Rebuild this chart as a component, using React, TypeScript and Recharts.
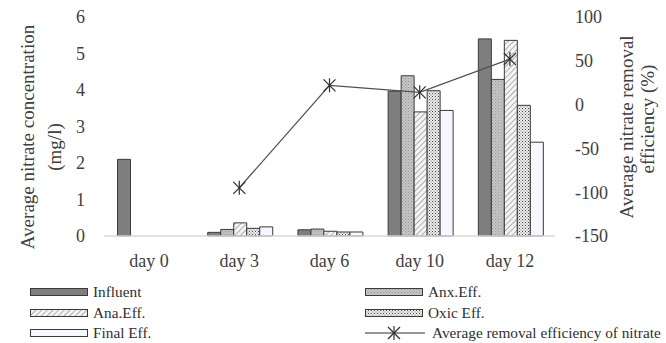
import React from 'react';
import { ComposedChart, Bar, Line, XAxis, YAxis, Legend } from 'recharts';

const categories = ['day 0', 'day 3', 'day 6', 'day 10', 'day 12'];
const influent = [2.1, 0.1, 0.17, 3.97, 5.4];
const anxEff = [0, 0.18, 0.19, 4.39, 4.29];
const anaEff = [0, 0.36, 0.13, 3.4, 5.36];
const oxicEff = [0, 0.21, 0.11, 3.98, 3.58];
const finalEff = [0, 0.25, 0.11, 3.44, 2.57];
const removal: (number | null)[] = [null, -95, 22, 14, 52];
const leftTicks = [0, 1, 2, 3, 4, 5, 6];
const rightTicks = [-150, -100, -50, 0, 50, 100];

const data = categories.map((c, i) => ({
  day: c,
  influent: influent[i],
  anx: anxEff[i],
  ana: anaEff[i],
  oxic: oxicEff[i],
  fin: finalEff[i],
  removal: removal[i],
}));

const FONT = "'Liberation Serif', 'DejaVu Serif', 'Noto Serif', serif";
const TXT = '#404040';
const STROKE = '#3a3a3a';

const StarDot = (props: any) => {
  const { cx, cy, value } = props;
  if (value == null || cx == null || cy == null) return null;
  const s = 6;
  return (
    <g stroke="#303030" strokeWidth={1.2}>
      <line x1={cx - s} y1={cy - s} x2={cx + s} y2={cy + s} />
      <line x1={cx - s} y1={cy + s} x2={cx + s} y2={cy - s} />
      <line x1={cx} y1={cy - s - 1} x2={cx} y2={cy + s + 1} />
    </g>
  );
};

const LeftTitle = () => (
  <g style={{ fontFamily: FONT }} fontSize={19} fill={TXT}>
    <text x={27} y={137} transform="rotate(-90 27 137)" textAnchor="middle" dominantBaseline="central" style={{ fontFamily: FONT }}>
      Average nitrate concentration
    </text>
    <text x={54} y={147} transform="rotate(-90 54 147)" textAnchor="middle" dominantBaseline="central" style={{ fontFamily: FONT }}>
      (mg/l)
    </text>
  </g>
);

const RightTitle = () => (
  <g style={{ fontFamily: FONT }} fontSize={19} fill={TXT}>
    <text x={626} y={127} transform="rotate(-90 626 127)" textAnchor="middle" dominantBaseline="central" style={{ fontFamily: FONT }}>
      Average nitrate removal
    </text>
    <text x={647} y={119} transform="rotate(-90 647 119)" textAnchor="middle" dominantBaseline="central" style={{ fontFamily: FONT }}>
      efficiency (%)
    </text>
  </g>
);

const legendItems = [
  { name: 'Influent', fill: '#7f7f7f', col: 0, row: 0, type: 'bar' },
  { name: 'Anx.Eff.', fill: 'url(#patAnx)', col: 1, row: 0, type: 'bar' },
  { name: 'Ana.Eff.', fill: 'url(#patAna)', col: 0, row: 1, type: 'bar' },
  { name: 'Oxic Eff.', fill: 'url(#patOxic)', col: 1, row: 1, type: 'bar' },
  { name: 'Final Eff.', fill: '#f7f7ff', col: 0, row: 2, type: 'bar' },
  { name: 'Average removal efficiency of nitrate', fill: '', col: 1, row: 2, type: 'line' },
];

const LegendContent = () => (
  <div style={{ position: 'relative', width: 666, height: 64, fontFamily: FONT, fontSize: 15.3, color: '#303030' }}>
    {legendItems.map((it) => {
      const left = it.col === 0 ? 30 : 365;
      const top = [13, 33.5, 54][it.row];
      return (
        <div key={it.name} style={{ position: 'absolute', left, top: top - 9, height: 18, display: 'flex', alignItems: 'center', whiteSpace: 'nowrap' }}>
          <svg width={60} height={18} style={{ display: 'block' }}>
            {it.type === 'bar' ? (
              <rect x={0.5} y={5.5} width={57} height={7} fill={it.fill} stroke={STROKE} strokeWidth={1} />
            ) : (
              <g>
                <line x1={0} y1={9} x2={60} y2={9} stroke="#303030" strokeWidth={1.2} />
                <StarDot cx={29} cy={9} value={1} />
              </g>
            )}
          </svg>
          <span style={{ marginLeft: it.type === 'bar' ? 3 : 7 }}>{it.name}</span>
        </div>
      );
    })}
  </div>
);

const tickStyle = { fill: TXT, fontSize: 18, fontFamily: FONT, style: { fontFamily: FONT } };

export default function App() {
  return (
    <div style={{ position: 'absolute', left: 0, top: 0, width: 666, height: 343, background: '#fff', fontFamily: FONT }}>
      <ComposedChart
        width={666}
        height={343}
        data={data}
        margin={{ top: 17, right: 0, bottom: 0, left: 0 }}
        barCategoryGap="15%"
        barGap={0}
        style={{ fontFamily: FONT }}
      >
        <defs>
          <pattern id="patAnx" width="3" height="3" patternUnits="userSpaceOnUse">
            <rect width="3" height="3" fill="#c4c4c4" />
            <rect x="0" y="0" width="1" height="1" fill="#9a9a9a" />
            <rect x="1.5" y="1.5" width="1" height="1" fill="#a8a8a8" />
          </pattern>
          <pattern id="patAna" width="4" height="4" patternUnits="userSpaceOnUse" patternTransform="rotate(45)">
            <rect width="4" height="4" fill="#f4f4f4" />
            <line x1="0" y1="0" x2="0" y2="4" stroke="#8a8a8a" strokeWidth="1.3" />
          </pattern>
          <pattern id="patOxic" width="3" height="3" patternUnits="userSpaceOnUse">
            <rect width="3" height="3" fill="#ececec" />
            <rect x="0" y="0" width="1" height="1" fill="#4a4a4a" />
            <rect x="1.5" y="1.5" width="1" height="1" fill="#7a7a7a" />
          </pattern>
        </defs>
        <XAxis
          dataKey="day"
          height={43}
          tickLine={false}
          tickSize={0}
          tickMargin={18}
          axisLine={{ stroke: '#d9d9d9', strokeWidth: 1.5 }}
          tick={tickStyle}
          interval={0}
        />
        <YAxis
          yAxisId="left"
          orientation="left"
          width={104}
          domain={[0, 6]}
          ticks={leftTicks}
          axisLine={false}
          tickLine={false}
          tickSize={0}
          tickMargin={19}
          tick={tickStyle}
          label={{ content: () => <LeftTitle /> }}
        />
        <YAxis
          yAxisId="right"
          orientation="right"
          width={111}
          domain={[-150, 100]}
          ticks={rightTicks}
          axisLine={false}
          tickLine={false}
          tickSize={0}
          tickMargin={20}
          tick={tickStyle}
          label={{ content: () => <RightTitle /> }}
        />
        <Bar yAxisId="left" dataKey="influent" name="Influent" fill="#7f7f7f" stroke={STROKE} strokeWidth={1} isAnimationActive={false} />
        <Bar yAxisId="left" dataKey="anx" name="Anx.Eff." fill="url(#patAnx)" stroke={STROKE} strokeWidth={1} isAnimationActive={false} />
        <Bar yAxisId="left" dataKey="ana" name="Ana.Eff." fill="url(#patAna)" stroke={STROKE} strokeWidth={1} isAnimationActive={false} />
        <Bar yAxisId="left" dataKey="oxic" name="Oxic Eff." fill="url(#patOxic)" stroke={STROKE} strokeWidth={1} isAnimationActive={false} />
        <Bar yAxisId="left" dataKey="fin" name="Final Eff." fill="#f7f7ff" stroke={STROKE} strokeWidth={1} isAnimationActive={false} />
        <Line
          yAxisId="right"
          dataKey="removal"
          name="Average removal efficiency of nitrate"
          stroke="#505050"
          strokeWidth={1.3}
          dot={<StarDot />}
          activeDot={false}
          isAnimationActive={false}
        />
        <Legend
          verticalAlign="bottom"
          content={() => <LegendContent />}
          wrapperStyle={{ left: 0, bottom: 0, width: 666, height: 64 }}
        />
      </ComposedChart>
    </div>
  );
}
